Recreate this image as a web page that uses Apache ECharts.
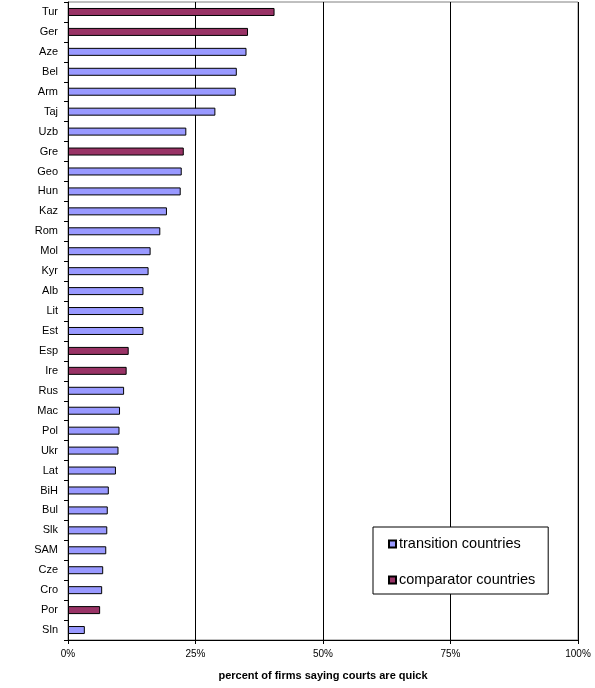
<!DOCTYPE html>
<html>
<head>
<meta charset="utf-8">
<script src="https://cdn.jsdelivr.net/npm/echarts@6/dist/echarts.min.js"></script>
<style>
  html, body { margin: 0; padding: 0; background: #fff; }
  #chart { width: 595px; height: 688px; }
</style>
</head>
<body>
<div id="chart"></div>
<script>
// Countries, top to bottom
const countries = ['Tur','Ger','Aze','Bel','Arm','Taj','Uzb','Gre','Geo','Hun','Kaz','Rom','Mol','Kyr','Alb','Lit','Est','Esp','Ire','Rus','Mac','Pol','Ukr','Lat','BiH','Bul','Slk','SAM','Cze','Cro','Por','Sln'];
// Share of firms (%) saying courts are quick
const values = [40.5,35.3,35.0,33.1,32.9,28.9,23.2,22.7,22.3,22.1,19.4,18.1,16.2,15.8,14.8,14.8,14.8,11.9,11.5,11.0,10.2,10.1,9.9,9.4,8.0,7.8,7.7,7.5,6.9,6.7,6.3,3.3];
// Comparator (non-transition) countries
const comparators = ['Tur','Ger','Gre','Esp','Ire','Por'];
const xTicks = [0, 25, 50, 75, 100];

const transitionData = countries.map((c, i) => comparators.includes(c) ? '-' : values[i]);
const comparatorData = countries.map((c, i) => comparators.includes(c) ? values[i] : '-');

const font = 'Arial, "Liberation Sans", sans-serif';
const chart = echarts.init(document.getElementById('chart'), null, { renderer: 'canvas' });

chart.setOption({
  animation: false,
  backgroundColor: '#fff',
  grid: {
    left: 68, right: 17, top: 2, bottom: 48,
    show: true, borderColor: '#808080', borderWidth: 1, backgroundColor: 'transparent'
  },
  legend: {
    orient: 'vertical',
    left: 373, top: 527,
    padding: [9, 13, 6, 15],
    itemGap: 20,
    itemWidth: 7, itemHeight: 7,
    icon: 'rect',
    borderColor: '#000', borderWidth: 1,
    backgroundColor: '#fff',
    textStyle: { fontFamily: font, fontSize: 14.5, lineHeight: 16, color: '#000', padding: [0, 0, 0, -2] },
    data: ['transition countries', 'comparator countries']
  },
  xAxis: {
    type: 'value',
    min: xTicks[0], max: xTicks[xTicks.length - 1], interval: 25,
    axisLine: { show: true, lineStyle: { color: '#000', width: 1 } },
    axisTick: { show: true, length: 4, lineStyle: { color: '#000' } },
    axisLabel: { formatter: '{value}%', fontFamily: font, fontSize: 10, color: '#000', margin: 9 },
    splitLine: { show: true, lineStyle: { color: '#000', width: 1 } },
    name: 'percent of firms saying courts are quick',
    nameLocation: 'middle',
    nameGap: 30,
    nameTextStyle: { fontFamily: font, fontSize: 11, fontWeight: 'bold', color: '#000' }
  },
  yAxis: {
    type: 'category',
    data: countries,
    inverse: true,
    axisLine: { show: true, lineStyle: { color: '#000', width: 1 } },
    axisTick: { show: true, length: 4, lineStyle: { color: '#000' } },
    axisLabel: { fontFamily: font, fontSize: 11, color: '#000', margin: 10 },
    splitLine: { show: false }
  },
  series: [
    {
      name: 'transition countries',
      type: 'bar',
      stack: 'all',
      barWidth: 8,
      data: transitionData,
      itemStyle: { color: '#9999FF', borderColor: '#000', borderWidth: 1 }
    },
    {
      name: 'comparator countries',
      type: 'bar',
      stack: 'all',
      barWidth: 8,
      data: comparatorData,
      itemStyle: { color: '#993366', borderColor: '#000', borderWidth: 1 }
    }
  ]
});
</script>
</body>
</html>
